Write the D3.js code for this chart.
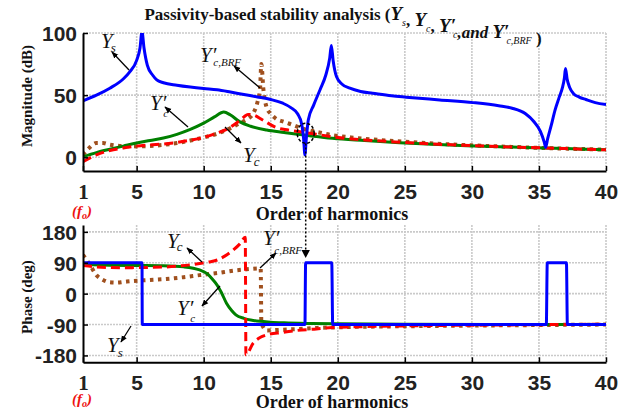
<!doctype html>
<html>
<head>
<meta charset="utf-8">
<script src="https://cdnjs.cloudflare.com/ajax/libs/d3/7.8.5/d3.min.js"></script>
<style>
body { margin: 0; background: #fff; }
svg { display: block; }
</style>
</head>
<body>
<svg id="chart" width="626" height="414"></svg>
<script>
// harmonic order ticks
var harmTicks = [1, 5, 10, 15, 20, 25, 30, 35, 40];
var magTicks = [0, 50, 100];
var phaseTicks = [-180, -90, 0, 90, 180];

// magnitude (dB): [harmonic, dB]
var magYs = [[1,45.5],[2,50],[3,55.6],[4,63],[4.5,69],[5,78],[5.25,88],[5.4,101],[5.55,88],[5.8,74],[6.2,66],[6.5,62.3],[7,60],[8,58],[9,56.5],[10,55.3],[11,54.3],[12,52.5],[13,50.5],[14,48.6],[15,46.5],[15.9,43.5],[16.5,40],[17,35],[17.3,27],[17.45,15],[17.55,2],[17.65,15],[17.8,30],[18.2,42],[18.7,55],[19.1,66],[19.4,80],[19.52,90],[19.65,78],[19.9,65],[20.3,59],[20.9,55.6],[21.7,53],[22.6,51.6],[24,49.5],[25.1,48.4],[27.6,46.2],[30.1,44],[32,41.5],[33,39.5],[34,35],[34.6,29],[35.1,21],[35.4,12],[35.5,8],[35.65,15],[35.9,25],[36.2,38],[36.5,48],[36.75,56],[36.9,64],[36.98,71.5],[37.1,63],[37.3,56],[37.6,51],[38,48.5],[38.5,46.5],[39.2,44],[40,42.5]];
var magYcp = [[1,0.5],[2,3.8],[3,6.5],[4,9],[5,11.5],[6,13.5],[7,15.5],[8,18.5],[9,22.5],[10,27.5],[10.8,32.5],[11.5,36.5],[12,34],[12.7,28.5],[13.5,25],[14.7,22],[16,20],[17,18.5],[18.4,16.8],[19.6,15.3],[22,13.5],[24.6,11.8],[27,10.6],[29.6,9.4],[32,8.6],[34.6,7.8],[37,7],[40,6]];
var magYc = [[1,-3.5],[2,2],[3,5.5],[4,7.5],[5,9],[6,10],[7,10.7],[8,12],[9,13.8],[10,16],[11,19.5],[11.7,22.5],[12.5,28],[13,32.5],[13.3,34.5],[13.7,34],[14.4,30],[15.4,24],[16.3,22],[17.2,20.5],[18.4,18.5],[20,16],[22,14],[25,12],[28,10.3],[31,9],[34,8],[37,7],[40,6]];
var magYcBrf = [[1,2],[1.5,8],[2,11.5],[2.5,11.5],[3,10.2],[4,9],[5,8.8],[6,9.2],[7,10],[8,11.5],[9,13.5],[10,16],[11,19],[12,23.5],[12.7,27.5],[13.3,31],[13.7,35.5],[14,44],[14.2,55],[14.3,75],[14.45,55],[14.7,40],[15,35],[15.4,31],[16,28.5],[16.4,27],[17.4,23],[18.4,20.5],[19.5,18],[21,16],[23,14],[25,12.5],[28,10.6],[31,9.2],[34,8],[37,7],[40,6.2]];

// phase (deg): [harmonic, deg]
var phYs = [[1,90],[5.4,90],[5.42,-90],[17.55,-90],[17.6,90],[19.55,90],[19.62,-90],[35.55,-90],[35.62,90],[37.05,90],[37.12,-90],[40,-90]];
var phYcp = [[1,85],[3,83],[5,82],[7,81],[8.5,78],[9.7,69],[10.3,57],[10.7,40],[11,25],[11.3,5],[11.7,-28],[12.1,-50],[12.4,-62],[13,-72],[13.7,-78],[15,-83],[16,-85],[18,-87],[20,-88],[25,-89],[40,-90]];
var phYc = [[1,82],[2,78],[3,76],[4,75.5],[5,76],[6,76.5],[7,77.5],[8,80],[9,84],[9.7,88],[10.5,93],[11,98],[11.6,110],[12.2,127],[12.7,145],[13.1,164],[13.15,-178],[13.7,-144],[14.2,-128],[14.7,-120],[15.9,-113],[17,-107],[18.4,-103],[19.6,-98.6],[22,-96],[27,-93],[33,-91],[40,-89]];
var phYcBrf = [[1,113],[1.5,85],[2,54],[2.5,40],[3,33],[3.5,32],[4,34],[4.75,37],[6,40],[7.2,42.7],[8.5,48],[9.7,54],[11,60],[12.2,67],[13.2,71],[14.25,73.6],[14.3,-85],[14.7,-107],[15.9,-105],[17,-103],[18.4,-100],[20,-98],[25,-95],[30,-93],[35,-91.5],[40,-90]];

var svg = d3.select("#chart");
var x = d3.scaleLinear().domain([1, 40]).range([83, 606]);
var yMag = d3.scaleLinear().domain([-11, 100]).range([171, 33]);
var yPh = d3.scaleLinear().domain([-200, 200]).range([362.3, 225]);

var series = [
  {key: "brf", color: "#a0501e", width: 4, dash: "3.5,4.5", mag: magYcBrf, ph: phYcBrf},
  {key: "ycp", color: "#008000", width: 3, dash: null, mag: magYcp, ph: phYcp},
  {key: "yc", color: "#ff0000", width: 3, dash: "9,5", mag: magYc, ph: phYc},
  {key: "ys", color: "#0000ff", width: 3, dash: null, mag: magYs, ph: phYs}
];

var defs = svg.append("defs");
defs.append("marker").attr("id", "arr").attr("viewBox", "0 0 10 10")
  .attr("refX", 9).attr("refY", 5).attr("markerWidth", 7).attr("markerHeight", 7)
  .attr("markerUnits", "userSpaceOnUse").attr("orient", "auto")
  .append("path").attr("d", "M0,1 L10,5 L0,9 z").attr("fill", "#000");

function panel(y, ticks, field, id) {
  var top = y.range()[1], bot = y.range()[0];
  defs.append("clipPath").attr("id", id).append("rect")
    .attr("x", 83).attr("y", top).attr("width", 523).attr("height", bot - top);
  var g = svg.append("g");
  // grid
  g.selectAll(".gx").data(harmTicks.slice(1)).enter().append("line")
    .attr("x1", d => x(d)).attr("x2", d => x(d)).attr("y1", top).attr("y2", bot)
    .attr("stroke", "#cacaca").attr("stroke-width", 1.6).attr("stroke-dasharray", "2,1");
  g.selectAll(".gy").data(ticks).enter().append("line")
    .attr("x1", 83).attr("x2", 606).attr("y1", d => y(d)).attr("y2", d => y(d))
    .attr("stroke", "#cacaca").attr("stroke-width", 1.6).attr("stroke-dasharray", "2,1");

  var line = d3.line().x(d => x(d[0])).y(d => y(d[1])).curve(d3.curveMonotoneX);
  var lg = g.append("g").attr("clip-path", "url(#" + id + ")");
  series.forEach(function(s) {
    lg.append("path").datum(s[field]).attr("d", line)
      .attr("fill", "none").attr("stroke", s.color).attr("stroke-width", s.width)
      .attr("stroke-dasharray", s.dash).attr("stroke-linejoin", "round");
  });

  var ax = g.append("g").attr("transform", "translate(0," + bot + ")")
    .call(d3.axisBottom(x).tickValues(harmTicks).tickSize(-5).tickSizeOuter(0).tickPadding(13)
      .tickFormat(d => String(d)));
  var ay = g.append("g").attr("transform", "translate(83,0)")
    .call(d3.axisLeft(y).tickValues(ticks).tickSize(-5).tickSizeOuter(0).tickPadding(6)
      .tickFormat(d => String(d)));
  [ax, ay].forEach(function(a) {
    a.select(".domain").attr("stroke", "#000").attr("stroke-width", 2);
    a.selectAll(".tick line").attr("stroke", "#000").attr("stroke-width", 1.5);
    a.selectAll("text").attr("fill", "#222").style("font-family", "Liberation Sans, Arial, sans-serif")
      .style("font-weight", "bold").style("font-size", "21px");
  });
  ay.selectAll("text").attr("dy", "0.36em");
  ax.selectAll(".tick").filter(d => d === 1).select("text")
    .style("font-family", "Liberation Serif, Times New Roman, serif");
  return g;
}

panel(yMag, magTicks, "mag", "clipMag");
panel(yPh, phaseTicks, "ph", "clipPh");

// axis titles
var serif = "Liberation Serif, Times New Roman, serif";
function ylab(txt, cy) {
  svg.append("text").attr("transform", "translate(32," + cy + ") rotate(-90)")
    .attr("text-anchor", "middle").style("font-family", serif).style("font-weight", "bold")
    .style("font-size", "15px").attr("fill", "#111").text(txt);
}
ylab("Magnitude (dB)", 96);
ylab("Phase (deg)", 297);

[220, 408].forEach(function(by) {
  svg.append("text").attr("x", 332).attr("y", by).attr("text-anchor", "middle")
    .style("font-family", serif).style("font-weight", "bold").style("font-size", "18px")
    .attr("fill", "#111").text("Order of harmonics");
  var f = svg.append("text").attr("x", 72).attr("y", by - 4).style("font-family", serif)
    .style("font-style", "italic").style("font-weight", "bold").style("font-size", "15px").attr("fill", "#ee1111");
  f.append("tspan").text("(f");
  f.append("tspan").attr("dy", 3).style("font-size", "10px").text("o");
  f.append("tspan").attr("dy", -3).text(")");
});

// title
var t = svg.append("text").attr("x", 343).attr("y", 20).attr("text-anchor", "middle")
  .style("font-family", serif).style("font-weight", "bold").style("font-size", "17px").attr("fill", "#111");
t.append("tspan").text("Passivity-based stability analysis (");
function ySym(parent, prime, sub, under) {
  parent.append("tspan").style("font-style", "italic").style("font-size", "19px").text(prime ? "Y\u2032" : "Y");
  parent.append("tspan").attr("dx", under ? -3 : 0).attr("dy", 6).style("font-style", "italic")
    .style("font-weight", "normal").style("font-size", "10px").text(sub);
  parent.append("tspan").attr("dy", -6).text("");
}
ySym(t, false, "s"); t.append("tspan").text(", ");
ySym(t, false, "c"); t.append("tspan").text(", ");
ySym(t, true, "c", true); t.append("tspan").style("font-style", "italic").text(",and ");
ySym(t, true, "c,BRF", true); t.append("tspan").text(" )");

// annotations
function label(xp, yp, prime, sub, subDx, subDy, subSize) {
  var l = svg.append("text").attr("x", xp).attr("y", yp).style("font-family", serif)
    .style("font-style", "italic").style("font-size", "21px").attr("fill", "#111");
  l.append("tspan").text(prime ? "Y\u2032" : "Y");
  l.append("tspan").attr("dx", subDx).attr("dy", subDy).style("font-size", subSize + "px").text(sub);
}
function arrow(x1, y1, x2, y2) {
  svg.append("line").attr("x1", x1).attr("y1", y1).attr("x2", x2).attr("y2", y2)
    .attr("stroke", "#000").attr("stroke-width", 1.3).attr("marker-end", "url(#arr)");
}
label(101, 48, false, "s", -2, 4, 13); arrow(129, 70, 112, 52);
label(200, 62, true, "c,BRF", -3, 4, 11); arrow(260, 88, 234, 66);
label(150, 110, true, "c", -3, 7, 11); arrow(188, 127, 165, 107);
label(243, 162, false, "c", -1, 4, 13); arrow(225, 127, 241, 143);

label(167, 248, false, "c", -2, 3, 13); arrow(202, 262, 187, 248);
label(263, 245, true, "c,BRF", -5, 9, 11); arrow(260, 268, 276, 253);
label(177, 315, true, "c", -3, 7, 11); arrow(220, 286, 202, 306);
label(107, 352, false, "s", -1, 5, 13); arrow(131, 326, 121, 342);

// dashed circle and dotted link between the two panels
svg.append("ellipse").attr("cx", 305.7).attr("cy", 133.3).attr("rx", 8.5).attr("ry", 10)
  .attr("fill", "none").attr("stroke", "#000").attr("stroke-width", 1.5).attr("stroke-dasharray", "3,2");
svg.append("line").attr("x1", 305.7).attr("y1", 143.5).attr("x2", 305.7).attr("y2", 251)
  .attr("stroke", "#000").attr("stroke-width", 1.5).attr("stroke-dasharray", "2,2");
svg.append("path").attr("d", "M301.5,250 L309.9,250 L305.7,258 z").attr("fill", "#000");
</script>
</body>
</html>
